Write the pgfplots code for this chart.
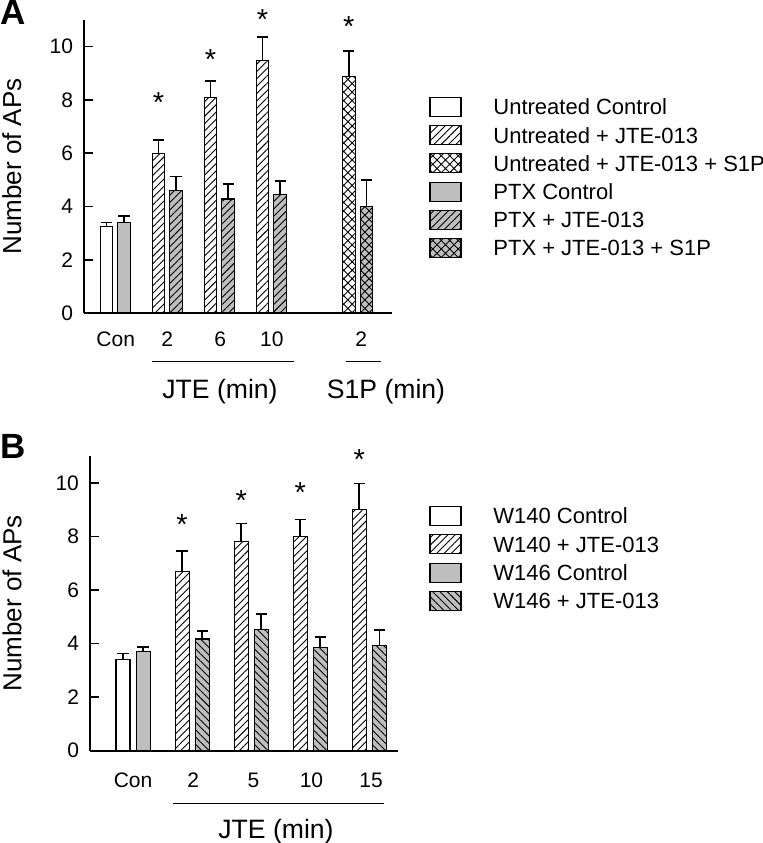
\documentclass[border=0pt]{standalone}
\usepackage{fontspec}
\setmainfont{Liberation Sans}
\usepackage{pgfplots}
\pgfplotsset{compat=1.18}
\usepackage{pgfplotstable}
\usetikzlibrary{patterns,patterns.meta}
\definecolor{bargrey}{RGB}{190,190,190}

% ---------- Panel A data ----------
\pgfplotstableread{
x y e
-0.17 3.25 0.15
}\AuntCon
\pgfplotstableread{
x y e
0.83 6.00 0.50
1.83 8.10 0.60
2.83 9.47 0.90
}\AuntJTE
\pgfplotstableread{
x y e
4.49 8.87 0.96
}\AuntSIP
\pgfplotstableread{
x y e
0.17 3.40 0.23
}\AptxCon
\pgfplotstableread{
x y e
1.17 4.59 0.54
2.17 4.28 0.57
3.17 4.44 0.52
}\AptxJTE
\pgfplotstableread{
x y e
4.83 4.00 1.00
}\AptxSIP
% ---------- Panel B data ----------
\pgfplotstableread{
x y e
-0.17 3.41 0.22
}\BwCon
\pgfplotstableread{
x y e
0.83 6.70 0.75
1.83 7.80 0.68
2.83 8.00 0.63
3.83 9.00 0.97
}\BwJTE
\pgfplotstableread{
x y e
0.17 3.69 0.19
}\BgCon
\pgfplotstableread{
x y e
1.17 4.17 0.30
2.17 4.54 0.57
3.17 3.84 0.41
4.17 3.93 0.58
}\BgJTE

\tikzset{
  wbar/.style={draw=black, line width=0.55pt, fill=white},
  gbar/.style={draw=black, line width=0.55pt, fill=bargrey},
  whatch/.style={draw=black, line width=0.55pt, preaction={fill=white}, pattern={Lines[angle=45,distance=2.6pt,line width=0.45pt]}},
  ghatch/.style={draw=black, line width=0.55pt, preaction={fill=bargrey}, pattern={Lines[angle=45,distance=2.6pt,line width=0.45pt]}},
  ghatchb/.style={draw=black, line width=0.55pt, preaction={fill=bargrey}, pattern={Lines[angle=-45,distance=2.6pt,line width=0.45pt]}},
  wcross/.style={draw=black, line width=0.55pt, preaction={fill=white}, pattern={Hatch[angle=45,distance=3pt,line width=0.45pt]}},
  gcross/.style={draw=black, line width=0.55pt, preaction={fill=bargrey}, pattern={Hatch[angle=45,distance=3pt,line width=0.45pt]}},
  star/.style={font=\fontsize{14.5}{16}\selectfont, anchor=base, yshift=-8.3pt, inner sep=0pt},
  legtext/.style={font=\fontsize{11}{13}\selectfont, anchor=base west, inner sep=0pt},
}

\pgfplotsset{
  myaxis/.style={
    scale only axis,
    axis lines*=left,
    axis line style={line width=0.85pt,-},
    ymin=0, ymax=11, ytick={0,2,...,10},
    tick align=inside, major tick length=4.5pt,
    ytick style={line width=0.85pt, black},
    xtick style={draw=none},
    ybar, clip=false,
    tick label style={font=\fontsize{10.5}{12}\selectfont},
    /pgf/number format/assume math mode=true,
    yticklabel style={xshift=-2pt},
    ylabel={Number of APs},
    ylabel style={font=\fontsize{13}{15}\selectfont, anchor=center},
  },
  eb/.style={bar shift=0pt, error bars/.cd, y dir=plus, y explicit,
    error bar style={line width=0.85pt, black, solid},
    error mark=-,
    error mark options={rotate=90, line width=0.85pt, black, mark size=2.8pt}},
}

\begin{document}
\begin{tikzpicture}
\useasboundingbox (0pt,0pt) rectangle (381.5pt,-421.5pt);

% ================= Panel A =================
\begin{axis}[myaxis,
  at={(42pt,-156.5pt)}, anchor=south west,
  width=154pt, height=146.5pt,
  xmin=-0.6, xmax=5.32,
  bar width=6.25pt,
  xtick={0.01,1,2.02,3.01,4.73},
  xticklabels={Con,2,6,10,2},
  xticklabel style={yshift=-1.5pt},
  ylabel style={at={(axis description cs:-0.234,0.5)}},
]
\addplot[wbar, eb] table[x=x,y=y,y error=e] {\AuntCon};
\addplot[whatch, eb] table[x=x,y=y,y error=e] {\AuntJTE};
\addplot[wcross, eb] table[x=x,y=y,y error=e] {\AuntSIP};
\addplot[gbar, eb] table[x=x,y=y,y error=e] {\AptxCon};
\addplot[ghatch, eb] table[x=x,y=y,y error=e] {\AptxJTE};
\addplot[gcross, eb] table[x=x,y=y,y error=e] {\AptxSIP};
\node[star] at (axis cs:0.83,8.15) {*};
\node[star] at (axis cs:1.83,9.75) {*};
\node[star] at (axis cs:2.83,11.27) {*};
\node[star] at (axis cs:4.49,11.02) {*};
\end{axis}

% group lines and labels A
\draw[line width=0.65pt] (75.85pt,-180.85pt) -- (147pt,-180.85pt);
\draw[line width=0.65pt] (172.85pt,-180.85pt) -- (190.35pt,-180.85pt);
\node[font=\fontsize{13.3}{15}\selectfont, anchor=base, inner sep=0pt] at (110pt,-199pt) {JTE (min)};
\node[font=\fontsize{13.3}{15}\selectfont, anchor=base, inner sep=0pt] at (193pt,-199pt) {S1P (min)};
\node[font=\bfseries\fontsize{17.5}{19}\selectfont, inner sep=0pt] at (6.4pt,-6.4pt) {A};

% legend A
\draw[wbar]   (215pt,-48.75pt)  rectangle (230.5pt,-58.25pt);
\draw[whatch] (215pt,-62.85pt)  rectangle (230.5pt,-72.35pt);
\draw[wcross] (215pt,-76.95pt)  rectangle (230.5pt,-86.45pt);
\draw[gbar]   (215pt,-91.05pt)  rectangle (230.5pt,-100.55pt);
\draw[ghatch] (215pt,-105.15pt) rectangle (230.5pt,-114.65pt);
\draw[gcross] (215pt,-119.25pt) rectangle (230.5pt,-128.75pt);
\node[legtext] at (246.5pt,-57.45pt)  {Untreated Control};
\node[legtext] at (246.5pt,-71.55pt)  {Untreated + JTE-013};
\node[legtext] at (246.5pt,-85.65pt)  {Untreated + JTE-013 + S1P};
\node[legtext] at (246.5pt,-99.75pt)  {PTX Control};
\node[legtext] at (246.5pt,-113.85pt) {PTX + JTE-013};
\node[legtext] at (246.5pt,-127.95pt) {PTX + JTE-013 + S1P};

% ================= Panel B =================
\begin{axis}[myaxis,
  at={(45pt,-375.35pt)}, anchor=south west,
  width=154pt, height=147.35pt,
  xmin=-0.728, xmax=4.484,
  bar width=7pt,
  xtick={0,1.02,2.04,3.02,4.03},
  xticklabels={Con,2,5,10,15},
  xticklabel style={yshift=-3pt},
  ylabel style={at={(axis description cs:-0.253,0.5)}},
]
\addplot[wbar, eb] table[x=x,y=y,y error=e] {\BwCon};
\addplot[whatch, eb] table[x=x,y=y,y error=e] {\BwJTE};
\addplot[gbar, eb] table[x=x,y=y,y error=e] {\BgCon};
\addplot[ghatchb, eb] table[x=x,y=y,y error=e] {\BgJTE};
\node[star] at (axis cs:0.83,8.68) {*};
\node[star] at (axis cs:1.83,9.58) {*};
\node[star] at (axis cs:2.83,9.88) {*};
\node[star] at (axis cs:3.83,11.13) {*};
\end{axis}

\draw[line width=0.65pt] (86.5pt,-401.65pt) -- (192pt,-401.65pt);
\node[font=\fontsize{13.3}{15}\selectfont, anchor=base, inner sep=0pt] at (138pt,-419pt) {JTE (min)};
\node[font=\bfseries\fontsize{17.5}{19}\selectfont, inner sep=0pt] at (6.4pt,-223.3pt) {B};

% legend B
\draw[wbar]    (215pt,-253.25pt) rectangle (230.5pt,-262.75pt);
\draw[whatch]  (215pt,-267.4pt)  rectangle (230.5pt,-276.9pt);
\draw[gbar]    (215pt,-281.55pt) rectangle (230.5pt,-291.05pt);
\draw[ghatchb] (215pt,-295.75pt) rectangle (230.5pt,-305.25pt);
\node[legtext] at (246.5pt,-261.95pt) {W140 Control};
\node[legtext] at (246.5pt,-276.1pt)  {W140 + JTE-013};
\node[legtext] at (246.5pt,-290.25pt) {W146 Control};
\node[legtext] at (246.5pt,-304.45pt) {W146 + JTE-013};
\end{tikzpicture}
\end{document}
